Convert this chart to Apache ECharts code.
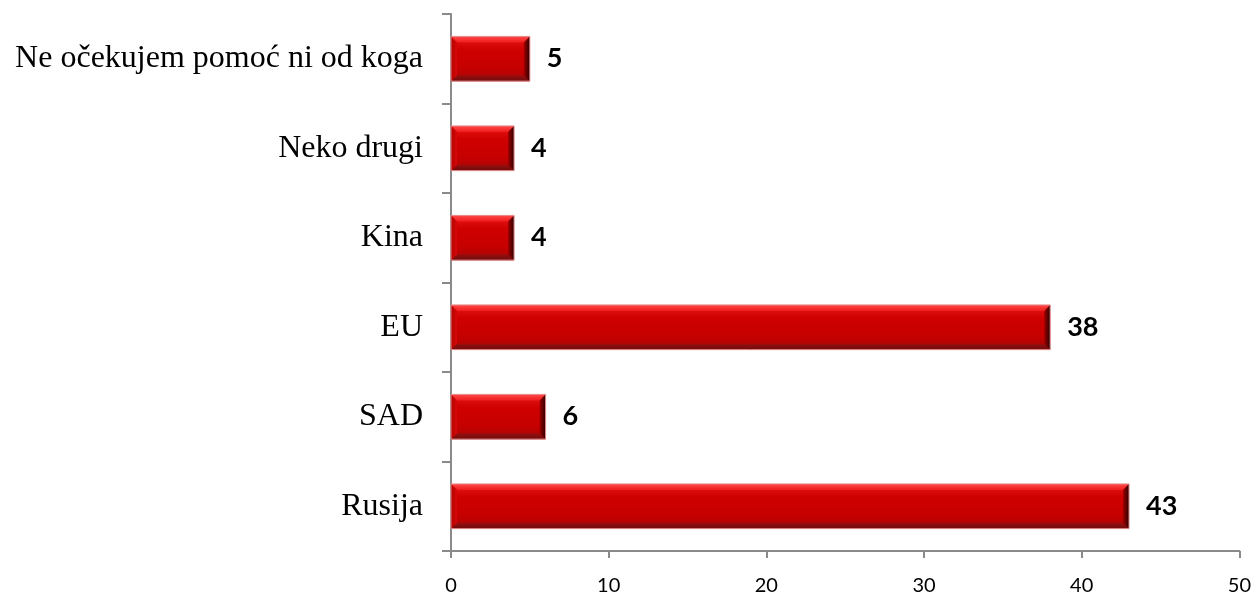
<!DOCTYPE html>
<html>
<head>
<meta charset="utf-8">
<script src="https://cdn.jsdelivr.net/npm/echarts@6/dist/echarts.min.js"></script>
<style>
html,body{margin:0;padding:0;background:#fff;}
#chart{width:1254px;height:602px;}
</style>
</head>
<body>
<div id="chart"></div>
<script>
const categories = ['Rusija', 'SAD', 'EU', 'Kina', 'Neko drugi', 'Ne očekujem pomoć ni od koga'];
const values = [43, 6, 38, 4, 4, 5];
const xTicks = { min: 0, max: 50, interval: 10 };

const chart = echarts.init(document.getElementById('chart'), null, { renderer: 'canvas' });
const LG = echarts.graphic.LinearGradient;

function renderBevelBar(params, api) {
  const v = api.value(0);
  const c = api.value(1);
  const start = api.coord([0, c]);
  const end = api.coord([v, c]);
  const bandH = api.size([0, 1])[1];
  const h = bandH * 0.5;
  const x0 = start[0], x1 = end[0];
  const y0 = start[1] - h / 2, y1 = start[1] + h / 2;
  const b = 6;
  const children = [
    { type: 'rect', shape: { x: x0, y: y0, width: x1 - x0, height: h },
      style: { fill: new LG(0, 0, 0, 1, [
        { offset: 0, color: '#e81818' }, { offset: 0.3, color: '#cf0000' },
        { offset: 0.7, color: '#c60000' }, { offset: 1, color: '#a80606' }]) } },
    { type: 'polygon', shape: { points: [[x0, y0], [x1, y0], [x1 - b, y0 + b], [x0 + b, y0 + b]] },
      style: { fill: new LG(0, 0, 0, 1, [{ offset: 0, color: '#ff4a4a' }, { offset: 1, color: '#f01c1c' }]) } },
    { type: 'polygon', shape: { points: [[x0, y1], [x1, y1], [x1 - b, y1 - b], [x0 + b, y1 - b]] },
      style: { fill: new LG(0, 0, 0, 1, [{ offset: 0, color: '#9a0e0e' }, { offset: 1, color: '#6e0c0c' }]) } },
    { type: 'polygon', shape: { points: [[x0, y0], [x0 + b, y0 + b], [x0 + b, y1 - b], [x0, y1]] },
      style: { fill: new LG(0, 0, 1, 0, [{ offset: 0, color: '#b00000' }, { offset: 1, color: '#d80808' }]) } },
    { type: 'polygon', shape: { points: [[x1, y0], [x1 - b, y0 + b], [x1 - b, y1 - b], [x1, y1]] },
      style: { fill: new LG(0, 0, 1, 0, [{ offset: 0, color: '#a00000' }, { offset: 1, color: '#2a0000' }]) } },
    { type: 'rect', shape: { x: x0, y: y0, width: x1 - x0, height: h },
      style: { fill: 'none', stroke: '#e59090', lineWidth: 1 } },
    { type: 'text', x: x1 + 17, y: start[1],
      style: { text: String(v), fill: '#000', font: 'bold 27px Lato', textVerticalAlign: 'middle', textAlign: 'left', verticalAlign: 'middle', align: 'left' } }
  ];
  return { type: 'group', children: children };
}

chart.setOption({
  animation: false,
  backgroundColor: '#ffffff',
  grid: { left: 451, right: 14, top: 14, bottom: 51, containLabel: false },
  xAxis: {
    type: 'value',
    min: xTicks.min, max: xTicks.max, interval: xTicks.interval,
    axisLine: { show: true, lineStyle: { color: '#8a8a8a', width: 2 } },
    axisTick: { show: true, length: 7, lineStyle: { color: '#8a8a8a', width: 2 } },
    splitLine: { show: false },
    axisLabel: { color: '#000', fontFamily: 'Lato', fontSize: 20, margin: 25 }
  },
  yAxis: {
    type: 'category',
    data: categories,
    axisLine: { show: true, lineStyle: { color: '#8a8a8a', width: 2 } },
    axisTick: { show: true, length: 9, lineStyle: { color: '#8a8a8a', width: 2 } },
    axisLabel: { color: '#000', fontFamily: 'Liberation Serif', fontSize: 32, margin: 28 }
  },
  series: [{
    type: 'custom',
    renderItem: renderBevelBar,
    encode: { x: 0, y: 1 },
    data: values.map((v, i) => [v, i]),
    z: 3
  }]
});
</script>
</body>
</html>
